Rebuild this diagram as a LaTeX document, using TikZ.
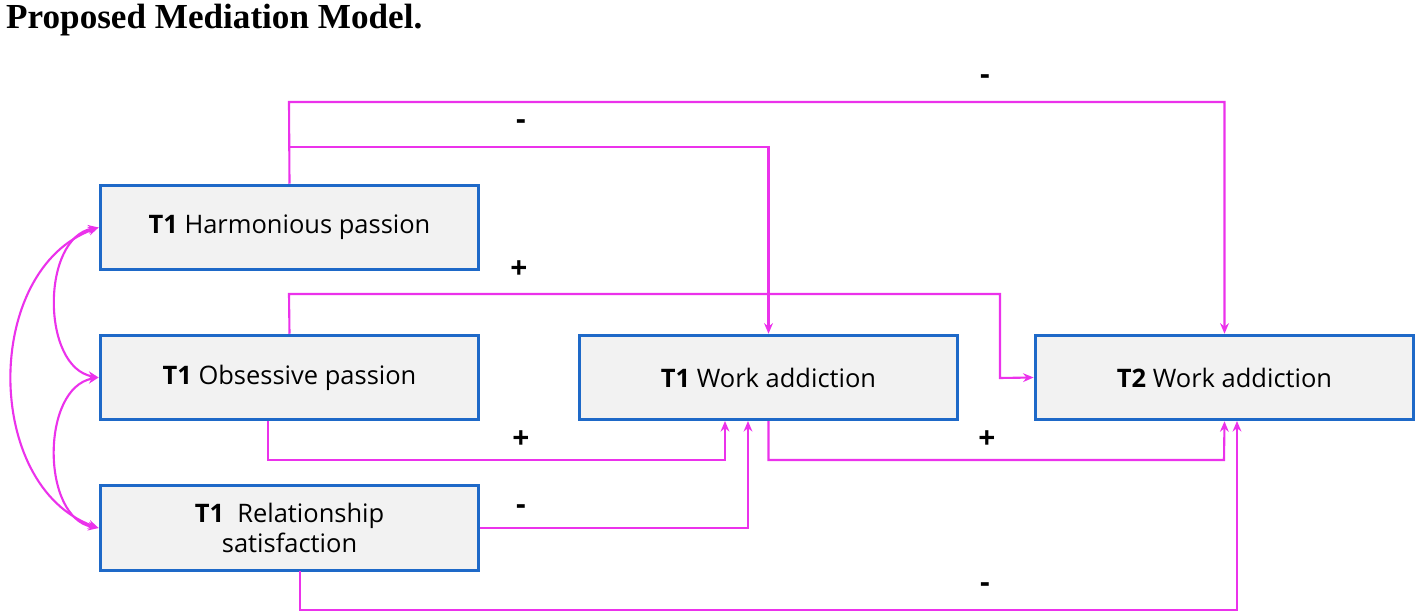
\documentclass[tikz,border=0pt]{standalone}
\usepackage{fontspec}
\setmainfont{Liberation Serif}
\newfontfamily\boxfont{Open Sans}
\usetikzlibrary{arrows.meta}
\definecolor{boxblue}{RGB}{30,105,200}
\definecolor{boxgray}{RGB}{242,242,242}
\definecolor{linkpink}{RGB}{235,50,235}
\tikzset{
  var/.style={rectangle, draw=boxblue, line width=1.8pt, fill=boxgray, minimum width=215.5pt, minimum height=48pt, align=center, font=\boxfont\fontsize{14.5}{17}\selectfont},
  link/.style={linkpink, line width=1.2pt, -{Stealth[length=6pt,width=5pt]}},
  both/.style={linkpink, line width=1.2pt, {Stealth[length=6pt,width=5pt]}-{Stealth[length=6pt,width=5pt]}},
  sign/.style={font=\boxfont\bfseries\fontsize{17}{17}\selectfont}
}
\begin{document}
\begin{tikzpicture}[x=0.02cm,y=-0.02cm]
\useasboundingbox (0,0) rectangle (1417,614);
\node[anchor=west, font=\bfseries\fontsize{20}{20}\selectfont] (title) at (0,20) {Proposed Mediation Model.};

\node[var] (hp) at (289.5,227.5) {\textbf{T1} Harmonious passion};
\node[var] (op) at (289.5,377.5) {\textbf{T1} Obsessive passion};
\node[var] (rs) at (289.5,528) {\textbf{T1}\ \ Relationship\\satisfaction};
\node[var] (wa1) at (768.5,377.5) {\textbf{T1} Work addiction};
\node[var] (wa2) at (1224.5,377.5) {\textbf{T2} Work addiction};

\coordinate (split) at (289,147);
\coordinate (opout) at (268,421);
\coordinate (wa1in) at (725,421);
\coordinate (wa1rs) at (748,421);
\coordinate (rsout) at (300,571);
\coordinate (wa2rs) at (1237,421);

% paths to T2
\draw[link] (hp.north) -- (289,102) -| (wa2.north);
\draw[link] (split) -| (wa1.north);
\draw[link] (op.north) -- (289,294) -| (1000,378) -- (wa2.west);
\draw[link] (opout) |- (725,460) -- (wa1in);
\draw[link] (rs.east) -| (wa1rs);
\draw[link] (wa1.south) |- (1224,460) -- (wa2.south);
\draw[link] (rsout) |- (1237,610) -- (wa2rs);

% correlations
\draw[both] (hp.west) to[out=190,in=170] (op.west);
\draw[both] (op.west) to[out=190,in=170] (rs.west);
\draw[both] (hp.west) to[out=200,in=160,looseness=1.05] (rs.west);

% signs
\node[sign] (s1) at (985,80) {-};
\node[sign] (s2) at (521,125) {-};
\node[sign] (s3) at (519,270) {+};
\node[sign] (s4) at (521,440) {+};
\node[sign] (s5) at (521,510) {-};
\node[sign] (s6) at (987,440) {+};
\node[sign] (s7) at (985,588) {-};
\end{tikzpicture}
\end{document}
